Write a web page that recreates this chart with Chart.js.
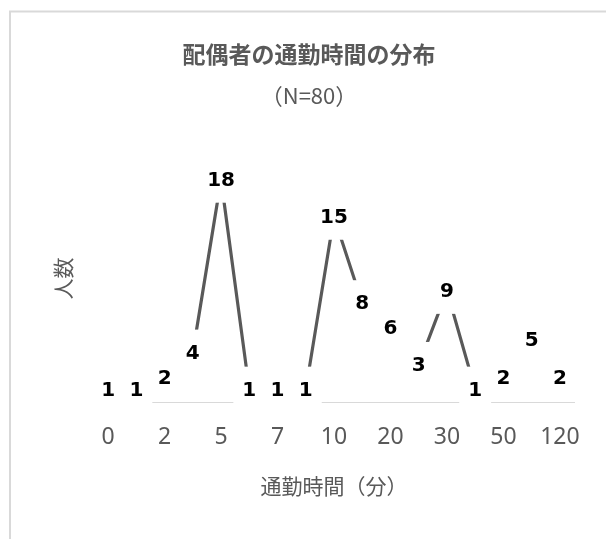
<!DOCTYPE html>
<html>
<head>
<meta charset="utf-8">
<script src="https://cdn.jsdelivr.net/npm/chart.js@4"></script>
<style>
  html, body { margin: 0; padding: 0; background: #fff; }
  #wrap { width: 606px; height: 539px; position: relative; }
</style>
</head>
<body>
<div id="wrap"><canvas id="commute"></canvas></div>
<script>
// commute time (minutes) categories and number of respondents
const minutes = ['0', '1', '2', '3', '5', '6', '7', '8', '10', '15', '20', '25', '30', '40', '50', '60', '120'];
const counts = [1, 1, 2, 4, 18, 1, 1, 1, 15, 8, 6, 3, 9, 1, 2, 5, 2];
const shownTicks = ['0', '2', '5', '7', '10', '20', '30', '50', '120'];

const grey = '#595959';
const jp = '"Noto Sans CJK JP", "Noto Sans", sans-serif';

// frame around the chart (it runs past the right and bottom edge)
const framePlugin = {
  id: 'frame',
  afterDraw(chart) {
    const c = chart.ctx;
    c.save();
    c.strokeStyle = '#d9d9d9';
    c.lineWidth = 2;
    c.beginPath();
    c.moveTo(10, 539);
    c.lineTo(10, 11.5);
    c.lineTo(606, 11.5);
    c.stroke();
    c.restore();
  }
};

// value labels centred on the points, on a white box that hides the line
const valueLabels = {
  id: 'valueLabels',
  afterDatasetsDraw(chart) {
    const c = chart.ctx;
    const meta = chart.getDatasetMeta(0);
    const vals = chart.data.datasets[0].data;
    c.save();
    c.font = 'bold 20px "DejaVu Sans", sans-serif';
    c.textAlign = 'center';
    c.textBaseline = 'middle';
    c.fillStyle = '#fff';
    meta.data.forEach((pt, i) => {
      const w = c.measureText(String(vals[i])).width / 2 + 9;
      c.fillRect(pt.x - w, pt.y - 23, w * 2, 46);
    });
    c.fillStyle = '#000';
    meta.data.forEach((pt, i) => {
      c.fillText(String(vals[i]), pt.x, pt.y + 1);
    });
    c.restore();
  }
};

new Chart(document.getElementById('commute'), {
  type: 'line',
  data: {
    labels: minutes,
    datasets: [{
      data: counts,
      borderColor: grey,
      borderWidth: 3.2,
      pointRadius: 0,
      tension: 0
    }]
  },
  options: {
    responsive: true,
    maintainAspectRatio: false,
    animation: false,
    layout: { padding: { left: 12, right: 0, top: 0, bottom: 0 } },
    plugins: {
      legend: { display: false },
      tooltip: { enabled: false },
      title: {
        display: true,
        text: '配偶者の通勤時間の分布',
        color: grey,
        font: { family: jp, size: 23, weight: 'bold' },
        padding: { top: 40, bottom: 0 }
      },
      subtitle: {
        display: true,
        text: '（N=80）',
        color: grey,
        font: { family: jp, size: 22 },
        padding: { top: 15, bottom: 46 }
      }
    },
    scales: {
      x: {
        offset: true,
        grid: { display: false, drawTicks: false },
        border: { display: true, color: '#d9d9d9', width: 1 },
        ticks: {
          autoSkip: false,
          maxRotation: 0,
          color: grey,
          padding: 22,
          font: { family: '"Noto Sans", sans-serif', size: 23 },
          callback(v) {
            const lab = this.getLabelForValue(v);
            return shownTicks.includes(lab) ? lab : '';
          }
        },
        title: {
          display: true,
          text: '通勤時間（分）',
          color: grey,
          font: { family: jp, size: 21 },
          padding: { top: 0, bottom: 40 }
        },
        afterFit(s) { s.height = 137; }
      },
      y: {
        min: 0,
        max: 20,
        grid: { display: false, drawTicks: false },
        border: { display: false },
        ticks: { display: false },
        title: {
          display: true,
          text: '人数',
          color: grey,
          font: { family: jp, size: 21 },
          padding: { top: 38, bottom: 0 }
        },
        afterFit(s) { s.width = 82; }
      },
      yr: {
        position: 'right',
        display: true,
        grid: { display: false, drawTicks: false },
        border: { display: false },
        ticks: { display: false },
        afterFit(s) { s.width = 32; }
      }
    }
  },
  plugins: [valueLabels, framePlugin]
});
</script>
</body>
</html>
